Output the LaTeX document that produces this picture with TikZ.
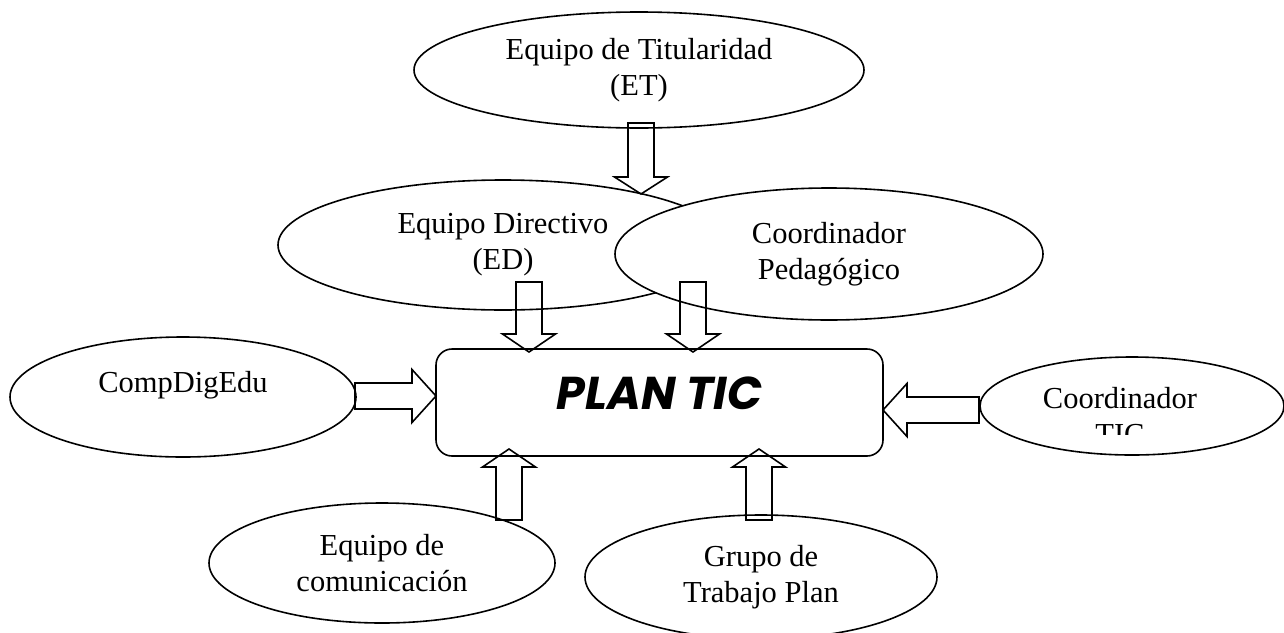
\documentclass[tikz,border=0pt]{standalone}
\usepackage{fontspec}
\setmainfont{Liberation Serif}
\newfontfamily\planfont{Poppins}
\usetikzlibrary{calc,shapes.geometric}
% hollow block arrow: [head length](tail)(tip)
\def\blockarrow[#1](#2)(#3){\coordinate (ba-base) at ($(#3)!#1!(#2)$);
	\draw[blockarrow] ($(#2)!13pt!90:(#3)$) -- ($(ba-base)!13pt!90:(#3)$) -- ($(ba-base)!26.5pt!90:(#3)$) -- (#3)
	-- ($(ba-base)!26.5pt!-90:(#3)$) -- ($(ba-base)!13pt!-90:(#3)$) -- ($(#2)!13pt!-90:(#3)$) -- cycle;}

\tikzset{
	bubble/.style={draw, ellipse, line width=1.6pt, fill=white, inner sep=0pt, outer sep=0pt, align=center, font=\fontsize{30.5}{36}\selectfont},
	bubbletext/.style={inner sep=0pt, align=center, font=\fontsize{30.5}{36}\selectfont},
	planbox/.style={draw, rectangle, rounded corners=16pt, line width=1.6pt, inner sep=0pt, minimum width=447pt, minimum height=107pt, text height=40pt, text depth=27pt, font=\planfont\fontsize{46}{50}\selectfont\bfseries\itshape},
	blockarrow/.style={line width=1.6pt, line join=miter}
}

\begin{document}
\begin{tikzpicture}[x=1pt, y=-1pt]
	%%%%% START %%%%%
	\clip (0, 0) rectangle (1284, 632);
	
	% upper bubbles
	\node[bubble, minimum width=450pt, minimum height=116pt] (et) at (639, 70) {Equipo de Titularidad\\(ET)};
	\node[bubble, minimum width=450pt, minimum height=130pt] (ed) at (503, 245) {Equipo Directivo\\(ED)};
	\node[bubble, minimum width=428pt, minimum height=132pt] (cp) at (829, 254) {Coordinador\\Pedagógico};
	
	% side bubbles
	\node[bubble, minimum width=346pt, minimum height=120pt, text height=21pt, text depth=31pt] (cde) at (183, 397) {CompDigEdu};
	\node[bubble, minimum width=304pt, minimum height=98pt] (ctic) at (1132, 406) {};
	\begin{scope}
		\clip (980, 380) rectangle (1284, 434);
		\node[bubbletext, anchor=north] (ctic-text) at (1120, 387) {Coordinador\\TIC};
	\end{scope}
	
	% lower bubbles
	\node[bubble, minimum width=346pt, minimum height=120pt] (com) at (382, 563) {Equipo de\\comunicación};
	\node[bubble, minimum width=352pt, minimum height=124pt] (gtp) at (761, 577) {Grupo de\\Trabajo Plan};
	
	% centre
	\node[planbox] (plan) at (659.5, 402.5) {PLAN TIC};
	
	% arrow ends
	\coordinate (et-out) at (641, 123);
	\coordinate (ed-in) at (641, 194);
	\coordinate (ed-out) at (529, 282);
	\coordinate (cp-out) at (693, 282);
	\coordinate (plan-n1) at (529, 352);
	\coordinate (plan-n2) at (693, 352);
	\coordinate (cde-out) at (355, 396);
	\coordinate (plan-w) at (436, 396);
	\coordinate (ctic-out) at (979, 410);
	\coordinate (plan-e) at (883, 410);
	\coordinate (com-out) at (509, 520);
	\coordinate (gtp-out) at (759, 520);
	\coordinate (plan-s1) at (509, 449);
	\coordinate (plan-s2) at (759, 449);
	
	\blockarrow[17pt](et-out)(ed-in)
	\blockarrow[18pt](ed-out)(plan-n1)
	\blockarrow[18pt](cp-out)(plan-n2)
	\blockarrow[24pt](cde-out)(plan-w)
	\blockarrow[24pt](ctic-out)(plan-e)
	\blockarrow[18pt](com-out)(plan-s1)
	\blockarrow[18pt](gtp-out)(plan-s2)
	%%%%% END %%%%%
\end{tikzpicture}
\end{document}
